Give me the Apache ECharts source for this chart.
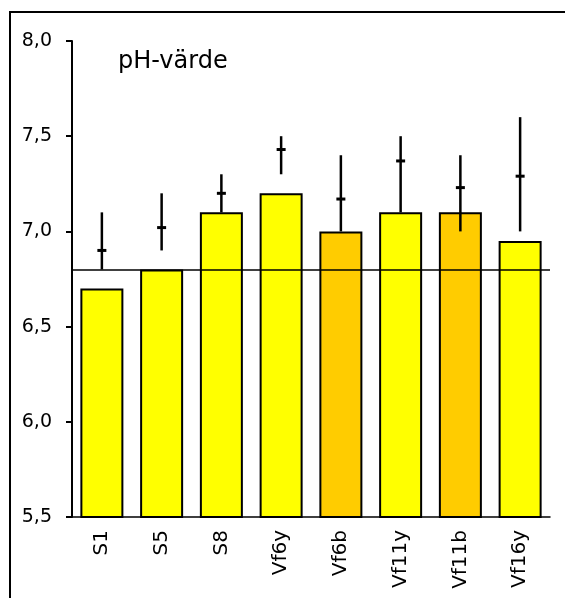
<!DOCTYPE html>
<html>
<head>
<meta charset="utf-8">
<script src="https://cdn.jsdelivr.net/npm/echarts@6/dist/echarts.min.js"></script>
<style>html,body{margin:0;padding:0;background:#fff;}#c{width:565px;height:598px;}</style>
</head>
<body>
<div id="c"></div>
<script>
const categories = ['S1', 'S5', 'S8', 'Vf6y', 'Vf6b', 'Vf11y', 'Vf11b', 'Vf16y'];
const barValues = [6.7, 6.8, 7.1, 7.2, 7.0, 7.1, 7.1, 6.95];
const barColors = ['#FFFF00', '#FFFF00', '#FFFF00', '#FFFF00', '#FFCC00', '#FFFF00', '#FFCC00', '#FFFF00'];
const errLow = [6.8, 6.9, 7.1, 7.3, 7.0, 7.1, 7.0, 7.0];
const errHigh = [7.1, 7.2, 7.3, 7.5, 7.4, 7.5, 7.4, 7.6];
const errMid = [6.9, 7.02, 7.2, 7.43, 7.17, 7.37, 7.23, 7.29];
const referenceLevel = 6.8;
const yTicks = [5.5, 6.0, 6.5, 7.0, 7.5, 8.0];
const titleText = 'pH-värde';

const FONT = 'DejaVu Sans';
const chart = echarts.init(document.getElementById('c'), null, {renderer: 'canvas'});

const errData = categories.map((c, i) => [i, errLow[i], errHigh[i], errMid[i]]);

chart.setOption({
  animation: false,
  backgroundColor: '#fff',
  title: {
    text: titleText,
    left: 113, top: 45,
    textStyle: {fontFamily: FONT, fontSize: 24, fontWeight: 'normal', color: '#000'}
  },
  graphic: [{
    type: 'rect', silent: true, z: 100,
    shape: {x: 10, y: 12, width: 620, height: 640},
    style: {fill: 'none', stroke: '#000', lineWidth: 2}
  }],
  grid: {left: 72, right: 15, top: 41, bottom: 81, containLabel: false},
  xAxis: {
    type: 'category',
    data: categories,
    axisLine: {show: true, lineStyle: {color: '#000', width: 1.5}},
    axisTick: {show: false},
    axisLabel: {rotate: 90, margin: 13, color: '#000', fontFamily: FONT, fontSize: 20, interval: 0}
  },
  yAxis: {
    type: 'value',
    min: yTicks[0], max: yTicks[yTicks.length - 1], interval: 0.5,
    splitLine: {show: false},
    axisLine: {show: true, lineStyle: {color: '#000', width: 2}},
    axisTick: {show: true, inside: false, length: 6, lineStyle: {color: '#000', width: 2}},
    axisLabel: {
      margin: 20, color: '#000', fontFamily: FONT, fontSize: 19,
      formatter: v => v.toFixed(1).replace('.', ',')
    }
  },
  series: [
    {
      type: 'bar',
      barWidth: 43,
      data: barValues.map((v, i) => ({value: v, itemStyle: {color: barColors[i]}})),
      itemStyle: {borderColor: '#000', borderWidth: 2},
      markLine: {
        silent: true, symbol: 'none', z: 5,
        label: {show: false},
        lineStyle: {color: '#000', width: 1.5, type: 'solid'},
        data: [{yAxis: referenceLevel}]
      }
    },
    {
      type: 'custom',
      z: 10,
      data: errData,
      renderItem: function (params, api) {
        const x = api.value(0);
        const lo = api.coord([x, api.value(1)]);
        const hi = api.coord([x, api.value(2)]);
        const mid = api.coord([x, api.value(3)]);
        return {
          type: 'group',
          children: [
            {type: 'line', shape: {x1: lo[0], y1: lo[1], x2: hi[0], y2: hi[1]},
             style: {stroke: '#000', lineWidth: 2.5}},
            {type: 'line', shape: {x1: mid[0] - 4.5, y1: mid[1], x2: mid[0] + 4.5, y2: mid[1]},
             style: {stroke: '#000', lineWidth: 3}}
          ]
        };
      }
    }
  ]
});
</script>
</body>
</html>
